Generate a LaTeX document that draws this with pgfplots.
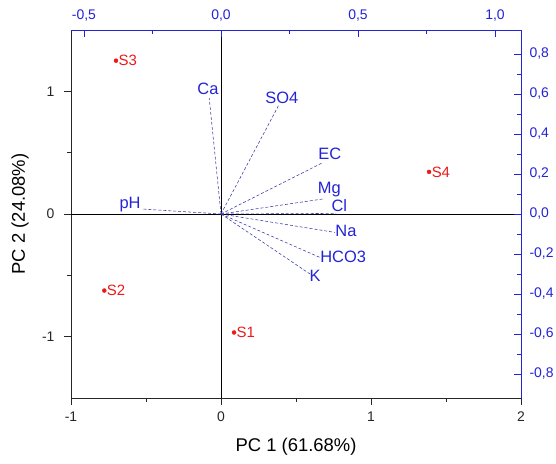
\documentclass[border=0pt]{standalone}
\usepackage{fontspec}
\setmainfont{Liberation Sans}
\usepackage{pgfplots}
\pgfplotsset{compat=1.18}
\definecolor{tkblue}{RGB}{35,35,215}
\definecolor{lnblue}{RGB}{55,55,165}
\definecolor{scred}{RGB}{235,25,25}
\newcommand{\tickfont}{\fontsize{14}{16}\selectfont}
\newcommand{\labfont}{\fontsize{16.5}{18}\selectfont}
\tikzset{lab/.style={pos=1, anchor=center, inner sep=0pt, font=\labfont, text=tkblue}}
\begin{document}
\begin{tikzpicture}
% scores: bottom and left axes
\begin{axis}[
  name=sc,
  scale only axis, width=450bp, height=368bp,
  xmin=-1, xmax=2, ymin=-1.5, ymax=1.5,
  axis x line*=bottom, axis y line*=left,
  xtick={-1,0,1,2}, ytick={-1,0,1},
  minor x tick num=1, minor y tick num=1,
  tick align=outside,
  major tick length=7bp, minor tick length=4bp,
  axis line style={black!85, line width=0.8bp},
  every tick/.style={black!85, line width=0.8bp},
  ticklabel style={font=\tickfont, text=black!85},
  /pgf/number format/assume math mode=true,
  xticklabel style={yshift=-3bp},
  yticklabel style={xshift=-6bp},
  every axis x label/.style={at={(axis description cs:0.5,-0.1323)}, anchor=center, font=\fontsize{18.5}{20}\selectfont},
  every axis y label/.style={at={(axis description cs:-0.1133,0.5)}, anchor=center, rotate=90, font=\fontsize{18.5}{20}\selectfont},
  xlabel={PC 1 (61.68\%)},
  ylabel={PC 2 (24.08\%)},
  clip=false,
]
\addplot[black, line width=0.8bp] coordinates {(-1,0) (2,0)};
\addplot[black, line width=0.8bp] coordinates {(0,-1.5) (0,1.5)};
\addplot[only marks, mark=*, mark size=2bp, scred,
  nodes near coords, point meta=explicit symbolic,
  every node near coord/.append style={anchor=west, inner sep=2.5bp, font=\fontsize{15}{17}\selectfont, text=scred}]
  table[meta=lab] {
x      y      lab
0.087  -0.966 S1
-0.778 -0.624 S2
-0.700 1.250  S3
1.387  0.343  S4
};
\end{axis}
% loadings: top and right axes
\begin{axis}[
  scale only axis, width=450bp, height=368bp,
  xmin=-0.5474, xmax=1.0949, ymin=-0.92, ymax=0.92,
  axis x line*=top, axis y line*=right,
  xtick={-0.5,0,0.5,1}, ytick={-0.8,-0.6,-0.4,-0.2,0,0.2,0.4,0.6,0.8},
  minor x tick num=1, minor y tick num=1,
  tick align=inside,
  major tick length=7bp, minor tick length=4bp,
  axis line style={tkblue, line width=0.8bp},
  every tick/.style={tkblue, line width=0.8bp},
  ticklabel style={font=\tickfont, text=tkblue},
  /pgf/number format/.cd, assume math mode=true, fixed, fixed zerofill, precision=1, use comma,
  /pgfplots/.cd,
  xticklabel style={yshift=5bp},
  yticklabel style={xshift=5bp},
  clip=false,
]
\addplot[lnblue, densely dashed, line width=0.55bp] coordinates {(0,0) (-0.043,0.580)} node[lab, xshift=-1.3bp, yshift=9.3bp] {Ca};
\addplot[lnblue, densely dashed, line width=0.55bp] coordinates {(0,0) (0.213,0.550)} node[lab, xshift=2.4bp, yshift=6.6bp] {SO4};
\addplot[lnblue, densely dashed, line width=0.55bp] coordinates {(0,0) (0.373,0.258)} node[lab, xshift=6.7bp, yshift=9bp] {EC};
\addplot[lnblue, densely dashed, line width=0.55bp] coordinates {(0,0) (0.371,0.075)} node[lab, xshift=6.6bp, yshift=9bp] {Mg};
\addplot[lnblue, densely dashed, line width=0.55bp] coordinates {(0,0) (0.420,0.003)} node[lab, xshift=3.3bp, yshift=8bp] {Cl};
\addplot[lnblue, densely dashed, line width=0.55bp] coordinates {(0,0) (0.416,-0.092)} node[lab, xshift=11bp, yshift=1.7bp] {Na};
\addplot[lnblue, densely dashed, line width=0.55bp] coordinates {(0,0) (0.361,-0.217)} node[lab, xshift=23.3bp, yshift=0.7bp] {HCO3};
\addplot[lnblue, densely dashed, line width=0.55bp] coordinates {(0,0) (0.325,-0.300)} node[lab, xshift=5bp, yshift=-2bp] {K};
\addplot[lnblue, densely dashed, line width=0.55bp] coordinates {(0,0) (-0.289,0.025)} node[lab, xshift=-11.7bp, yshift=4bp] {pH};
\end{axis}
\pgfresetboundingbox
\path[use as bounding box] (sc.south west) ++(-71bp,-66bp) rectangle ++(556bp,464bp);
\end{tikzpicture}
\end{document}
